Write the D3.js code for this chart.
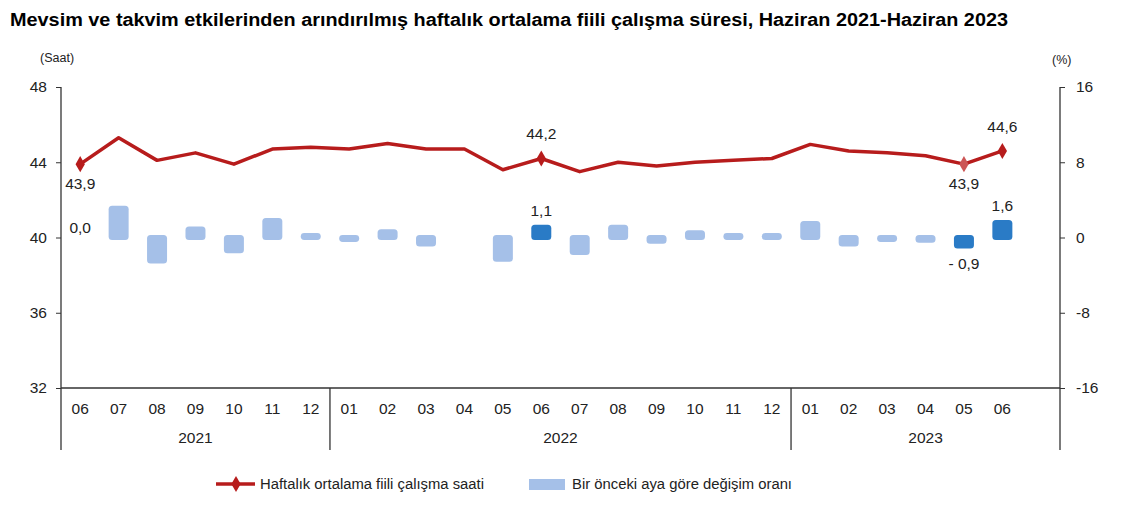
<!DOCTYPE html>
<html><head><meta charset="utf-8">
<script src="https://cdn.jsdelivr.net/npm/d3@7"></script>
<style>
body{margin:0;background:#fff;}
svg text{font-family:"Liberation Sans",Arial,sans-serif;fill:#222;}
</style></head>
<body><svg id="c" width="1147" height="519"></svg>
<script>
const months = ["06","07","08","09","10","11","12","01","02","03","04","05","06","07","08","09","10","11","12","01","02","03","04","05","06"];
const years = [{label:"2021",start:0,end:7},{label:"2022",start:7,end:19},{label:"2023",start:19,end:26}];
const hours = [43.9,45.3,44.1,44.5,43.9,44.7,44.8,44.7,45.0,44.7,44.7,43.6,44.2,43.5,44.0,43.8,44.0,44.1,44.2,44.95,44.6,44.5,44.35,43.9,44.6];
const change = [0.0,3.1,-2.5,0.9,-1.4,1.8,0.2,-0.2,0.6,-0.7,0.0,-2.3,1.1,-1.6,1.1,-0.4,0.5,0.2,0.2,1.5,-0.7,-0.2,-0.3,-0.9,1.6];
const highlightBars = [12,23,24];
const markerIdx = [0,12,23,24];
const hourLabels = [{i:0,t:"43,9",pos:"below"},{i:12,t:"44,2",pos:"above"},{i:23,t:"43,9",pos:"below"},{i:24,t:"44,6",pos:"above"}];
const barLabels = [{i:0,t:"0,0"},{i:12,t:"1,1"},{i:23,t:"- 0,9"},{i:24,t:"1,6"}];
const leftTicks = [32,36,40,44,48];
const rightTicks = [-16,-8,0,8,16];

const svg = d3.select("#c");
const L=61, R=1060, T=87, B=388;
const slots = d3.range(26);
const x = d3.scaleBand().domain(slots).range([L,R]).paddingInner(0).paddingOuter(0);
const yL = d3.scaleLinear().domain([32,48]).range([B,T]);
const yR = d3.scaleLinear().domain([-16,16]).range([B,T]);
const FS = 15.5;

svg.append("text").attr("x",10).attr("y",26).attr("font-size",18).attr("font-weight","bold").style("fill","#000")
  .attr("textLength",998).attr("lengthAdjust","spacingAndGlyphs")
  .text("Mevsim ve takvim etkilerinden arındırılmış haftalık ortalama fiili çalışma süresi, Haziran 2021-Haziran 2023");
svg.append("text").attr("x",40).attr("y",62).attr("font-size",12.5).text("(Saat)");
svg.append("text").attr("x",1052).attr("y",64).attr("font-size",12.5).text("(%)");

// axes
const gl = svg.append("g").attr("transform",`translate(${L},0)`)
  .call(d3.axisLeft(yL).tickValues(leftTicks).tickSize(5).tickPadding(9));
const gr = svg.append("g").attr("transform",`translate(${R},0)`)
  .call(d3.axisRight(yR).tickValues(rightTicks).tickSize(5).tickPadding(11).tickFormat(d=>String(d)));
[gl,gr].forEach(g=>{
  g.select(".domain").remove();
  g.selectAll("text").attr("font-size",FS).style("font-family","Liberation Sans, Arial, sans-serif").style("fill","#222");
  g.selectAll("line").attr("stroke","#333");
});
// vertical axis lines extending below
svg.append("line").attr("x1",L).attr("x2",L).attr("y1",T).attr("y2",450).attr("stroke","#333").attr("stroke-width",1.3);
svg.append("line").attr("x1",R).attr("x2",R).attr("y1",T).attr("y2",450).attr("stroke","#333").attr("stroke-width",1.3);
svg.append("line").attr("x1",L).attr("x2",R).attr("y1",B).attr("y2",B).attr("stroke","#333").attr("stroke-width",1.3);
// year separators
years.slice(1).forEach(yr=>{
  svg.append("line").attr("x1",x(yr.start)).attr("x2",x(yr.start)).attr("y1",B).attr("y2",450).attr("stroke","#333").attr("stroke-width",1.3);
});
// month labels
svg.append("g").selectAll("text").data(months).join("text")
  .attr("x",(d,i)=>x(i)+x.bandwidth()/2).attr("y",414).attr("text-anchor","middle").attr("font-size",FS).text(d=>d);
svg.append("g").selectAll("text").data(years).join("text")
  .attr("x",d=>(x(d.start)+(d.end>=26?R:x(d.end)))/2).attr("y",443).attr("text-anchor","middle").attr("font-size",FS).text(d=>d.label);

// bars
const bw = 20, pad = 2.5;
svg.append("g").selectAll("rect").data(change).join("rect")
  .attr("x",(d,i)=>x(i)+x.bandwidth()/2-bw/2).attr("width",bw)
  .attr("y",d=>Math.min(yR(d),yR(0))-pad)
  .attr("height",d=>Math.abs(yR(d)-yR(0))+2*pad)
  .attr("rx",3.5)
  .attr("fill",(d,i)=>highlightBars.includes(i)?"#2a7bc6":"#a5c0e8")
  .attr("display",d=>d===0?"none":null);

// line
const line = d3.line().x((d,i)=>x(i)+x.bandwidth()/2).y(d=>yL(d));
svg.append("path").datum(hours).attr("d",line).attr("fill","none").attr("stroke","#b71c1c").attr("stroke-width",3.5).attr("stroke-linejoin","round");
const diamond = d3.symbol().type(d3.symbolDiamond).size(75);
svg.append("g").selectAll("path").data(markerIdx).join("path")
  .attr("d",diamond).attr("transform",i=>`translate(${x(i)+x.bandwidth()/2},${yL(hours[i])})`)
  .attr("fill",i=>i===23?"#cc5555":"#b71c1c");

// labels
svg.append("g").selectAll("text").data(hourLabels).join("text")
  .attr("x",d=>x(d.i)+x.bandwidth()/2).attr("y",d=>d.pos==="above"?yL(hours[d.i])-19:yL(hours[d.i])+25)
  .attr("text-anchor","middle").attr("font-size",FS).text(d=>d.t);
svg.append("g").selectAll("text").data(barLabels).join("text")
  .attr("x",d=>x(d.i)+x.bandwidth()/2)
  .attr("y",d=>change[d.i]>0?yR(change[d.i])-pad-9:(change[d.i]<0?yR(change[d.i])+pad+21:yR(0)-5))
  .attr("text-anchor","middle").attr("font-size",FS).text(d=>d.t);

// legend
const lg = svg.append("g");
lg.append("line").attr("x1",216).attr("x2",255).attr("y1",484).attr("y2",484).attr("stroke","#b71c1c").attr("stroke-width",3.5);
lg.append("path").attr("d",diamond).attr("transform","translate(236,484)").attr("fill","#b71c1c");
lg.append("text").attr("x",260).attr("y",489).attr("font-size",14).attr("textLength",224).attr("lengthAdjust","spacingAndGlyphs").text("Haftalık ortalama fiili çalışma saati");
lg.append("rect").attr("x",529).attr("y",479).attr("width",36).attr("height",11).attr("fill","#a5c0e8");
lg.append("text").attr("x",572).attr("y",489).attr("font-size",14).attr("textLength",220).attr("lengthAdjust","spacingAndGlyphs").text("Bir önceki aya göre değişim oranı");
</script></body></html>
